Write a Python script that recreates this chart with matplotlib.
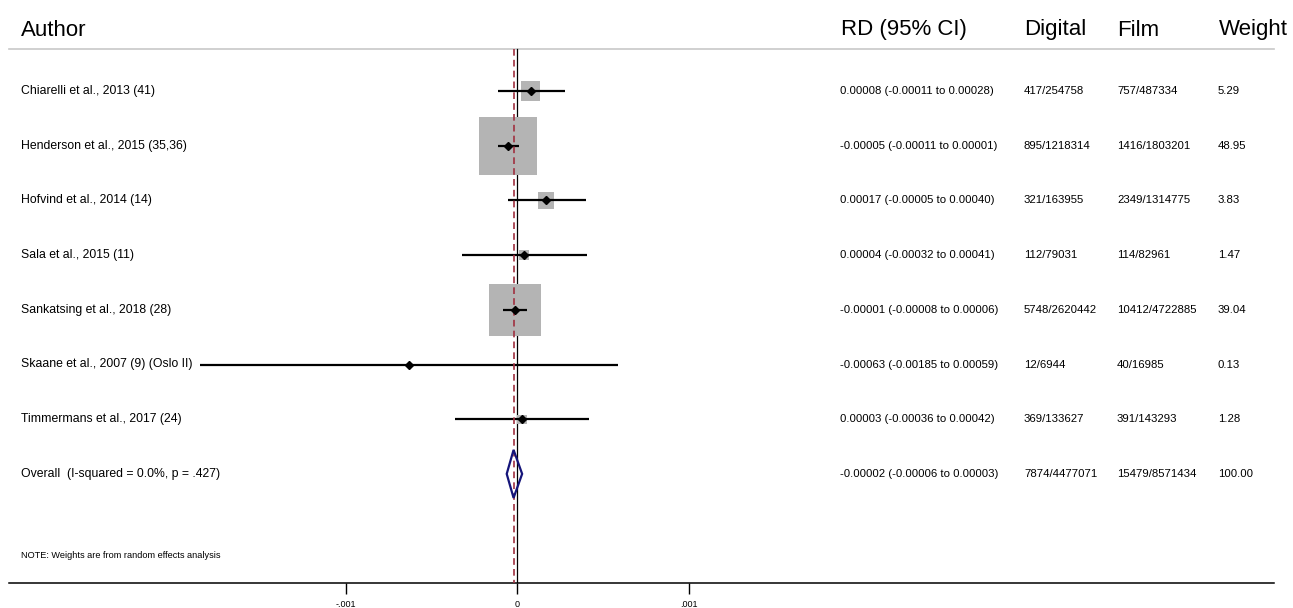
import matplotlib
matplotlib.use("Agg")
import matplotlib.pyplot as plt
import matplotlib.transforms as mtransforms
from matplotlib.patches import Rectangle, Polygon
import numpy as np

plt.rcParams['font.family'] = ['Liberation Sans', 'DejaVu Sans']

# ---------------- data ----------------
authors = ["Chiarelli et al., 2013 (41)",
           "Henderson et al., 2015 (35,36)",
           "Hofvind et al., 2014 (14)",
           "Sala et al., 2015 (11)",
           "Sankatsing et al., 2018 (28)",
           "Skaane et al., 2007 (9) (Oslo II)",
           "Timmermans et al., 2017 (24)"]
rd = [0.00008, -0.00005, 0.00017, 0.00004, -0.00001, -0.00063, 0.00003]
lo = [-0.00011, -0.00011, -0.00005, -0.00032, -0.00008, -0.00185, -0.00036]
hi = [0.00028, 0.00001, 0.00040, 0.00041, 0.00006, 0.00059, 0.00042]
digital = ["417/254758", "895/1218314", "321/163955", "112/79031",
           "5748/2620442", "12/6944", "369/133627"]
film = ["757/487334", "1416/1803201", "2349/1314775", "114/82961",
        "10412/4722885", "40/16985", "391/143293"]
weights = [5.29, 48.95, 3.83, 1.47, 39.04, 0.13, 1.28]
rd_text = ["0.00008 (-0.00011 to 0.00028)",
           "-0.00005 (-0.00011 to 0.00001)",
           "0.00017 (-0.00005 to 0.00040)",
           "0.00004 (-0.00032 to 0.00041)",
           "-0.00001 (-0.00008 to 0.00006)",
           "-0.00063 (-0.00185 to 0.00059)",
           "0.00003 (-0.00036 to 0.00042)"]

overall_label = "Overall  (I-squared = 0.0%, p = .427)"
overall_rd, overall_lo, overall_hi = -0.00002, -0.00006, 0.00003
overall_text = "-0.00002 (-0.00006 to 0.00003)"
overall_digital = "7874/4477071"
overall_film = "15479/8571434"
overall_weight = "100.00"

headers = ["Author", "RD (95% CI)", "Digital", "Film", "Weight"]
xticks = [-0.001, 0, 0.001]
xticklabels = ["-.001", "0", ".001"]
note = "NOTE: Weights are from random effects analysis"

# ---------------- layout ----------------
W, H = 1293, 608
fig = plt.figure(figsize=(W / 100, H / 100), dpi=100)
axis_y = 583
ax = fig.add_axes([0, (H - axis_y) / H, 1, axis_y / H])
scale = 171500.0  # px per unit
x0px = 517
ax.set_xlim((0 - x0px) / scale, (W - x0px) / scale)
ax.set_ylim(axis_y, 0)

for s in ['top', 'left', 'right']:
    ax.spines[s].set_visible(False)
ax.spines['bottom'].set_linewidth(1.1)
ax.spines['bottom'].set_bounds((9 - x0px) / scale, (1274 - x0px) / scale)
ax.set_yticks([])
ax.set_xticks(xticks)
ax.set_xticklabels(xticklabels, fontsize=6.5)
ax.tick_params(axis='x', length=8, width=1.0, pad=4, color='black')

row_y = [91 + i * 54.7 for i in range(8)]
head_y = 30
line_y = 49

# header rule
ax.plot([(9 - x0px) / scale, (1274 - x0px) / scale], [line_y, line_y],
        color='#c8c8c8', lw=1.2, clip_on=False, zorder=1)

# vertical lines
ax.plot([0, 0], [line_y, axis_y], color='black', lw=0.9, zorder=2)
ax.plot([overall_rd, overall_rd], [line_y, axis_y], color='#a03040',
        lw=1.2, ls=(0, (4, 2.5)), zorder=5)

# studies
for i in range(len(rd)):
    y = row_y[i]
    side = 8.3 * np.sqrt(weights[i])
    ax.add_patch(Rectangle((rd[i] - side / 2 / scale, y - side / 2),
                           side / scale, side, facecolor='#b4b4b4',
                           edgecolor='none', zorder=3))
    ax.plot([lo[i], hi[i]], [y, y], color='black', lw=1.6, zorder=4,
            solid_capstyle='butt')
    ax.plot([rd[i]], [y], marker='D', color='black', ms=4, zorder=6)

# overall diamond
oy = row_y[7]
ax.add_patch(Polygon([(overall_lo, oy), (overall_rd, oy - 24),
                      (overall_hi, oy), (overall_rd, oy + 24)],
                     closed=True, facecolor='none', edgecolor='#15157a',
                     lw=1.6, zorder=6))

# texts
tr = mtransforms.blended_transform_factory(fig.transFigure, ax.transData)
col_x = [21, 841, 1024, 1117, 1219]
for x, h in zip(col_x, headers):
    ax.text(x / W, head_y, h, transform=tr, fontsize=16, va='center',
            ha='left')

labels = authors + [overall_label]
rdt = rd_text + [overall_text]
digs = digital + [overall_digital]
films = film + [overall_film]
wts = ["%.2f" % w for w in weights] + [overall_weight]
nfs = 8.2
for i in range(8):
    y = row_y[i]
    ax.text(21 / W, y, labels[i], transform=tr, fontsize=8.8, va='center')
    ax.text(840 / W, y, rdt[i], transform=tr, fontsize=nfs, va='center')
    ax.text(1024 / W, y, digs[i], transform=tr, fontsize=nfs, va='center')
    ax.text(1117 / W, y, films[i], transform=tr, fontsize=nfs, va='center')
    ax.text(1218 / W, y, wts[i], transform=tr, fontsize=nfs, va='center')

ax.text(21 / W, 555, note, transform=tr, fontsize=6.6, va='center')

fig.savefig("out.png", dpi=100)
